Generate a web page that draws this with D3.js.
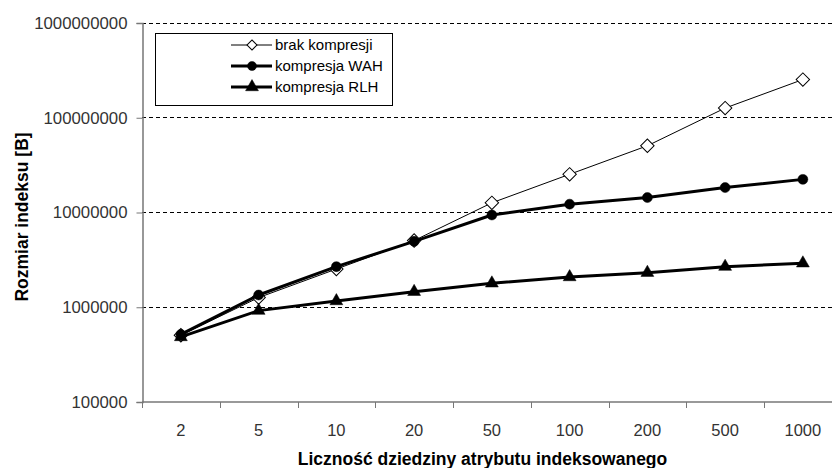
<!DOCTYPE html>
<html>
<head>
<meta charset="utf-8">
<script src="https://cdn.jsdelivr.net/npm/d3@7/dist/d3.min.js"></script>
<style>
  html, body { margin: 0; padding: 0; background: #fff; }
  svg { display: block; }
  text { font-family: "Liberation Sans", Arial, sans-serif; }
</style>
</head>
<body>
<svg id="chart" width="832" height="468"></svg>
<script>
const categories = ["2", "5", "10", "20", "50", "100", "200", "500", "1000"];
const brakKompresji = [500000, 1250000, 2500000, 5000000, 12500000, 25000000, 50000000, 125000000, 250000000];
const kompresjaWAH = [510000, 1330000, 2650000, 4900000, 9300000, 12100000, 14200000, 18100000, 22100000];
const kompresjaRLH = [480000, 910000, 1150000, 1440000, 1770000, 2060000, 2290000, 2650000, 2880000];
const yTicks = [100000, 1000000, 10000000, 100000000, 1000000000];
const seriesNames = ["brak kompresji", "kompresja WAH", "kompresja RLH"];

const svg = d3.select("#chart");
const pLeft = 142, pRight = 841.75, pTop = 22.5, pBottom = 401.5;

const x = d3.scaleBand().domain(categories).range([pLeft, pRight]).padding(0);
const y = d3.scaleLog().domain([100000, 1000000000]).range([pBottom, pTop]);

// gridlines
svg.append("g").selectAll("line").data(yTicks.slice(1)).join("line")
  .attr("x1", pLeft).attr("x2", pRight)
  .attr("y1", d => Math.round(y(d)) + 0.5).attr("y2", d => Math.round(y(d)) + 0.5)
  .attr("stroke", "#000").attr("stroke-width", 1).attr("stroke-dasharray", "4,3");

// y axis
const yAxis = d3.axisLeft(y).tickValues(yTicks).tickFormat(d3.format("d")).tickSize(6).tickPadding(9);
const gy = svg.append("g").attr("transform", `translate(${pLeft + 0.5},0.5)`).call(yAxis);
gy.select(".domain").attr("stroke", "#777").attr("stroke-width", 1.5);
gy.selectAll(".tick line").attr("stroke", "#777");
gy.selectAll(".tick text").attr("font-size", 16.8).attr("fill", "#333")
  .attr("font-family", "'Liberation Sans', Arial, sans-serif");

// x axis with ticks at category boundaries
const gx = svg.append("g").attr("transform", `translate(0,${pBottom + 0.5})`);
gx.append("line").attr("x1", pLeft).attr("x2", pRight).attr("y1", 0).attr("y2", 0)
  .attr("stroke", "#777").attr("stroke-width", 1.5);
const bounds = categories.map(c => x(c));
gx.selectAll("line.tk").data(bounds).join("line").attr("class", "tk")
  .attr("x1", d => Math.round(d) + 0.5).attr("x2", d => Math.round(d) + 0.5)
  .attr("y1", 0).attr("y2", 6).attr("stroke", "#777");
gx.selectAll("text").data(categories).join("text")
  .attr("x", d => x(d) + x.bandwidth() / 2).attr("y", 34)
  .attr("text-anchor", "middle").attr("font-size", 16.5).attr("fill", "#333")
  .text(d => d);

// axis titles
svg.append("text").attr("x", 482.5).attr("y", 465).attr("text-anchor", "middle")
  .attr("font-size", 17.5).attr("font-weight", "bold").attr("fill", "#000")
  .text("Liczność dziedziny atrybutu indeksowanego");
svg.append("text").attr("transform", "translate(28,217) rotate(-90)").attr("text-anchor", "middle")
  .attr("font-size", 17.5).attr("font-weight", "bold").attr("fill", "#000")
  .text("Rozmiar indeksu [B]");

const cx = d => x(d) + x.bandwidth() / 2;
const line = d3.line().x((d, i) => cx(categories[i])).y(d => y(d));

const diamondPath = d3.symbol().type(d3.symbolSquare).size(90)();
const circlePath = d3.symbol().type(d3.symbolCircle).size(78)();
const trianglePath = d3.symbol().type(d3.symbolTriangle).size(72)();

function drawSeries(data, lw, symPath, fill, rotate) {
  const g = svg.append("g");
  g.append("path").attr("d", line(data)).attr("fill", "none")
    .attr("stroke", "#000").attr("stroke-width", lw).attr("stroke-linejoin", "round");
  g.selectAll("path.m").data(data).join("path").attr("class", "m")
    .attr("d", symPath)
    .attr("transform", (d, i) => `translate(${cx(categories[i])},${y(d)})` + (rotate ? " rotate(45)" : ""))
    .attr("fill", fill).attr("stroke", "#000").attr("stroke-width", rotate ? 1 : 0.5);
}
drawSeries(brakKompresji, 1, diamondPath, "#fff", true);
drawSeries(kompresjaWAH, 3, circlePath, "#000", false);
drawSeries(kompresjaRLH, 3, trianglePath, "#000", false);

// legend
const lg = svg.append("g");
lg.append("rect").attr("x", 155.5).attr("y", 33.5).attr("width", 237).attr("height", 72)
  .attr("fill", "#fff").attr("stroke", "#000").attr("stroke-width", 1);
const rowsY = [45, 66, 87];
const lws = [1, 3, 3];
const syms = [d3.symbol().type(d3.symbolSquare).size(50)(), d3.symbol().type(d3.symbolCircle).size(64)(), d3.symbol().type(d3.symbolTriangle).size(72)()];
seriesNames.forEach((name, i) => {
  lg.append("line").attr("x1", 231).attr("x2", 272).attr("y1", rowsY[i]).attr("y2", rowsY[i])
    .attr("stroke", "#000").attr("stroke-width", lws[i]);
  lg.append("path").attr("d", syms[i])
    .attr("transform", `translate(252,${rowsY[i]})` + (i === 0 ? " rotate(45)" : ""))
    .attr("fill", i === 0 ? "#fff" : "#000").attr("stroke", "#000").attr("stroke-width", i === 0 ? 1 : 0.5);
  lg.append("text").attr("x", 275).attr("y", rowsY[i] + 5).attr("font-size", 15).attr("fill", "#000")
    .text(name);
});
</script>
</body>
</html>
